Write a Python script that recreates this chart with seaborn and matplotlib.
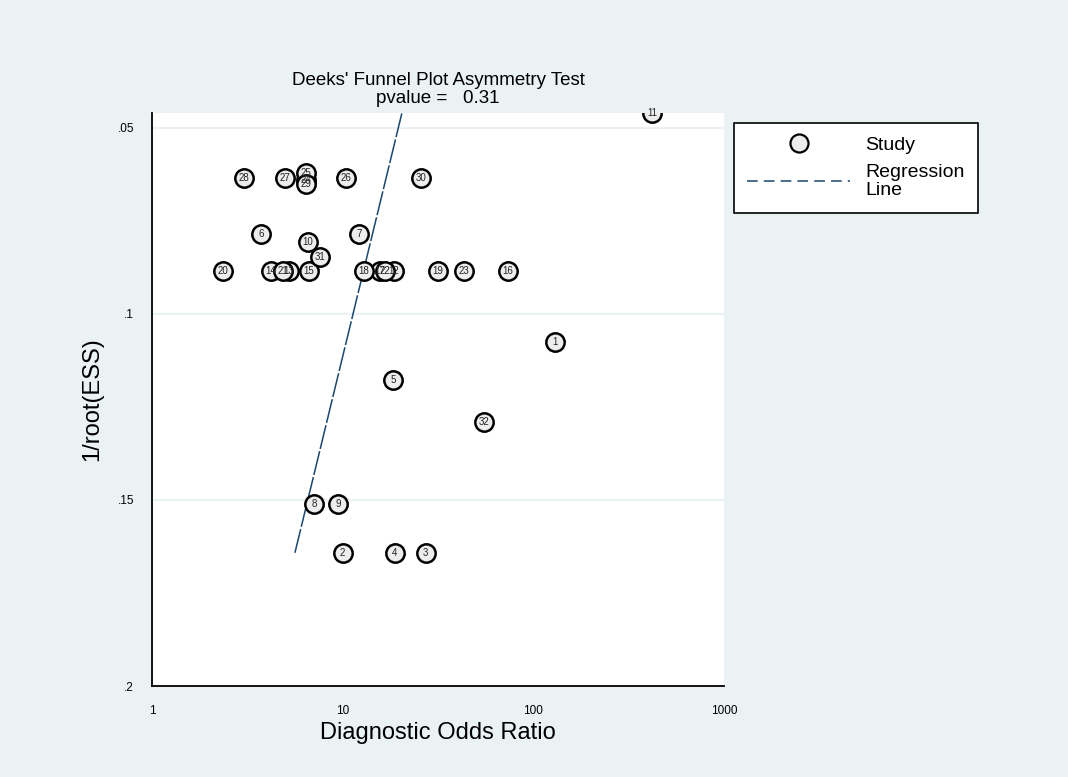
import numpy as np
import pandas as pd
import seaborn as sns
import matplotlib.pyplot as plt
from matplotlib.lines import Line2D

# Study data
study_ids = [1, 2, 3, 4, 5, 6, 7, 8, 9, 10, 11, 12, 13, 14, 15, 16,
             17, 18, 19, 20, 21, 22, 23, 24, 25, 26, 27, 28, 29, 30, 31, 32]

dor = [130, 10.0, 27.3, 18.8, 18.4, 3.73, 12.2, 7.07, 9.45, 6.58, 419, 18.6,
       5.23, 4.21, 6.66, 73.6, 15.7, 12.9, 31.6, 2.36, 4.86, 16.7, 43.3, 6.45,
       6.42, 10.4, 4.98, 3.04, 6.40, 25.7, 7.6, 55.0]

inv_root_ess = [0.1075, 0.1642, 0.1642, 0.1642, 0.1177, 0.0785, 0.0785, 0.151,
                0.151, 0.0806, 0.0460, 0.0884, 0.0884, 0.0884, 0.0884, 0.0884,
                0.0884, 0.0884, 0.0884, 0.0884, 0.0884, 0.0884, 0.0884, 0.0640,
                0.0621, 0.0634, 0.0634, 0.0634, 0.0650, 0.0634, 0.0847, 0.129]

# Regression: log10(DOR) = a + b * 1/root(ESS)
reg_intercept = 1.529
reg_slope = -4.746
p_value = 0.31

bg_color = "#EAF2F3"
line_color = "#1A476F"

df = pd.DataFrame({
    "id": study_ids,
    "dor": dor,
    "ess": inv_root_ess,
})

sns.set_style("white")
plt.rcParams["font.family"] = ["Liberation Sans", "DejaVu Sans"]
plt.rcParams["text.color"] = "black"
plt.rcParams["axes.labelcolor"] = "black"
plt.rcParams["xtick.color"] = "black"
plt.rcParams["ytick.color"] = "black"

fig = plt.figure(figsize=(10.68, 7.77), dpi=100)
fig.patch.set_facecolor(bg_color)

ax = fig.add_axes([0.1423, 0.1171, 0.5356, 0.7375])
ax.set_facecolor("white")

# Regression line over the range of the data
y_line = np.array([df["ess"].max(), df["ess"].min()])
line_df = pd.DataFrame({
    "y": y_line,
    "x": 10 ** (reg_intercept + reg_slope * y_line),
})

sns.lineplot(
    data=line_df,
    x="x",
    y="y",
    sort=False,
    color=line_color,
    linewidth=1.1,
    ax=ax,
    zorder=2,
)
ax.lines[-1].set_dashes([16, 1.5])

sns.scatterplot(
    data=df,
    x="dor",
    y="ess",
    s=175,
    color="#EDEDED",
    edgecolor="black",
    linewidth=1.8,
    ax=ax,
    zorder=3,
)

for _, row in df.iterrows():
    ax.text(
        row["dor"], row["ess"], str(int(row["id"])),
        ha="center", va="center", fontsize=7, color="#222222", zorder=4,
    )

ax.set_xscale("log")
ax.set_xlim(1, 1000)
ax.set_ylim(0.2, 0.04597)

ax.set_xticks([1, 10, 100, 1000])
ax.set_xticklabels(["1", "10", "100", "1000"])
ax.minorticks_off()
ax.set_yticks([0.05, 0.1, 0.15, 0.2])
ax.set_yticklabels([".05", ".1", ".15", ".2"])

ax.tick_params(axis="both", labelsize=8.5, length=7, width=1.2,
               color="black", direction="out", pad=6)
ax.tick_params(axis="x", pad=7)

for yv in [0.05, 0.1, 0.15]:
    ax.axhline(yv, color=bg_color, linewidth=1.6, zorder=1)

for side in ["top", "right"]:
    ax.spines[side].set_visible(False)
for side in ["left", "bottom"]:
    ax.spines[side].set_color("black")
    ax.spines[side].set_linewidth(1.3)

ax.set_xlabel("Diagnostic Odds Ratio", fontsize=17, labelpad=3)
ax.set_ylabel("1/root(ESS)", fontsize=17, labelpad=10)

ax.set_title(
    "Deeks' Funnel Plot Asymmetry Test\npvalue =   %.2f" % p_value,
    fontsize=13.5, linespacing=1.1, pad=7,
)

# Legend
handles = [
    Line2D([], [], marker="o", linestyle="none", markersize=13,
           markerfacecolor="#EDEDED", markeredgecolor="black",
           markeredgewidth=1.6),
    Line2D([], [], color=line_color, linewidth=1.1, dashes=[7, 4]),
]
leg = fig.legend(
    handles,
    ["Study", "Regression\nLine"],
    loc="upper left",
    bbox_to_anchor=(0.687, 0.842),
    borderaxespad=0,
    fontsize=14,
    frameon=True,
    fancybox=False,
    edgecolor="black",
    framealpha=1,
    handlelength=5.3,
    handletextpad=0.75,
    borderpad=0.7,
    labelspacing=0.5,
)
leg.get_frame().set_linewidth(1.2)
for t in leg.get_texts():
    t.set_linespacing(1.1)

fig.savefig("out.png", dpi=100, facecolor=bg_color)
